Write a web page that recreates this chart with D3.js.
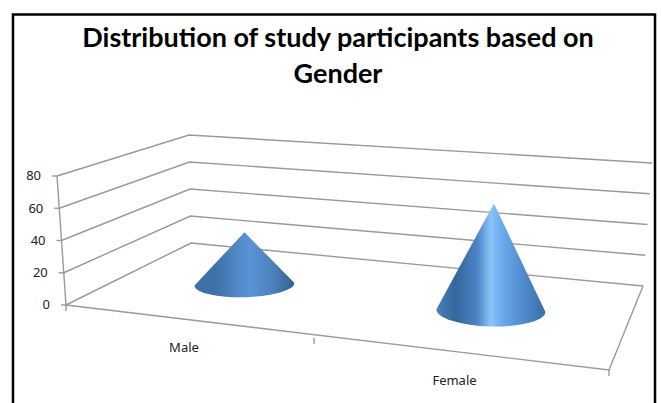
<!DOCTYPE html>
<html lang="en">
    <head>
        <meta charset="utf-8">
        <title>Distribution of study participants based on Gender</title>
        <script type="text/javascript" src="https://d3js.org/d3.v7.min.js"></script>
        <style type="text/css">
          html, body { margin: 0; padding: 0; background: #fff; }
          svg { display: block; }
          .grid { stroke: #999; stroke-width: 1.4px; fill: none; }
          .tick-label { font-family: "Noto Sans", sans-serif; font-size: 13px; fill: #222; }
          .title { font-family: Lato, sans-serif; font-weight: 700; font-size: 27px; fill: #000; text-anchor: middle; }
        </style>
    </head>
    <body>
        <svg width="661" height="403"></svg>
        <script type="text/javascript">
            const w = 661;
            const h = 403;

            //chart values
            const categories = ["Male", "Female"];
            const values = [32, 66];
            const yTicks = [0, 20, 40, 60, 80];
            const titleLines = ["Distribution of study participants based on", "Gender"];

            const svg = d3.select("svg");

            //outer frame
            svg.append("rect")
               .attr("x", 13).attr("y", 14.5)
               .attr("width", 642).attr("height", h)
               .attr("fill", "#fff").attr("stroke", "#000").attr("stroke-width", 2.5);

            svg.selectAll("text.title")
               .data(titleLines)
               .enter()
               .append("text")
               .attr("class", "title")
               .attr("x", 338)
               .attr("y", (d, i) => 47 + i * 36)
               .text(d => d);

            //the fake 3d box: one y scale per vertical edge of the box
            const yDomain = [0, 80];
            const frontX = d3.scaleLinear().domain(yDomain).range([66, 57]);
            const frontY = d3.scaleLinear().domain(yDomain).range([305, 176]);
            const backX = d3.scaleLinear().domain(yDomain).range([191, 189]);
            const backY = d3.scaleLinear().domain(yDomain).range([243, 135]);
            const rightX = d3.scaleLinear().domain(yDomain).range([643, 652]);
            const rightY = d3.scaleLinear().domain(yDomain).range([286, 163]);

            //category axis along the front and back of the floor
            const catFrontX = d3.scaleLinear().domain([0, 1, 2]).range([66, 314, 609]);
            const catFrontY = d3.scaleLinear().domain([0, 1, 2]).range([305, 338, 370]);
            const catBackX = d3.scaleLinear().domain([0, 1, 2]).range([191, 387, 643]);
            const catBackY = d3.scaleLinear().domain([0, 2]).range([243, 286]);

            //c = position along categories, depth = 0 front .. 1 back
            const floor = (c, depth) => [
                catFrontX(c) + (catBackX(c) - catFrontX(c)) * depth,
                catFrontY(c) + (catBackY(c) - catFrontY(c)) * depth
            ];

            //wall gridlines
            const line = d3.line();
            svg.selectAll("path.grid")
               .data(yTicks)
               .enter()
               .append("path")
               .attr("class", "grid")
               .attr("d", t => line([
                   [frontX(t), frontY(t)],
                   [backX(t), backY(t)],
                   [rightX(t), rightY(t)]
               ]));

            //floor front edge, right edge, and y axis edge
            svg.append("path").attr("class", "grid")
               .attr("d", line([[catFrontX(0), catFrontY(0)], [catFrontX(2), catFrontY(2)], [catBackX(2), catBackY(2)]]));
            svg.append("path").attr("class", "grid")
               .attr("d", line([[frontX(0), frontY(0)], [frontX(80), frontY(80)]]));

            //y ticks + labels
            svg.selectAll("line.ytick")
               .data(yTicks)
               .enter()
               .append("line")
               .attr("class", "grid")
               .attr("x1", t => frontX(t) - 5)
               .attr("x2", t => frontX(t))
               .attr("y1", t => frontY(t))
               .attr("y2", t => frontY(t));
            svg.selectAll("text.ylab")
               .data(yTicks)
               .enter()
               .append("text")
               .attr("class", "tick-label")
               .attr("text-anchor", "end")
               .attr("x", t => frontX(t) - 16)
               .attr("y", t => frontY(t) + 1)
               .attr("dominant-baseline", "middle")
               .text(t => t);

            //category ticks + labels
            svg.selectAll("line.xtick")
               .data([0, 1, 2])
               .enter()
               .append("line")
               .attr("class", "grid")
               .attr("x1", c => catFrontX(c))
               .attr("x2", c => catFrontX(c))
               .attr("y1", c => catFrontY(c))
               .attr("y2", c => catFrontY(c) + 6);
            svg.selectAll("text.xlab")
               .data(categories)
               .enter()
               .append("text")
               .attr("class", "tick-label")
               .attr("text-anchor", "middle")
               .attr("x", (d, i) => catFrontX(i + 0.5) - 6 - i)
               .attr("y", (d, i) => catFrontY(i + 0.5) + 30 + i)
               .text(d => d);

            //cone shading, the second one is lighter in the middle
            const defs = svg.append("defs");
            const coneStops = [
                [[0, "#3f70a8"], [0.2, "#3f70a8"], [0.55, "#5a94d6"], [0.8, "#4a7fba"], [1, "#33608f"]],
                [[0, "#4a80ba"], [0.18, "#35659c"], [0.38, "#4f86c6"], [0.5, "#8cc4fb"], [0.58, "#70aeee"], [0.8, "#4f8acc"], [1, "#3a6fa8"]]
            ];
            coneStops.forEach((stops, i) => {
                const g = defs.append("linearGradient").attr("id", "cone" + i);
                stops.forEach(s => g.append("stop").attr("offset", s[0]).attr("stop-color", s[1]));
            });

            const coneHeight = d3.scaleLinear().domain(yDomain).range([0, 130]);
            const coneWidth = d3.scaleOrdinal().domain(categories).range([50, 54.5]);
            const coneFlat = d3.scaleOrdinal().domain(categories).range([0.26, 0.29]);
            svg.selectAll("path.cone")
               .data(categories)
               .enter()
               .append("path")
               .attr("class", "cone")
               .attr("fill", (d, i) => `url(#cone${i})`)
               .attr("d", (d, i) => {
                   const [cx, cy] = floor(i + 0.5, 0.55);
                   const rx = coneWidth(d);
                   const ry = rx * coneFlat(d);
                   const tilt = 1.5 * (i === 0 ? -1 : 1); //base is skewed a little with the view
                   const dy = rx * Math.sin(tilt * Math.PI / 180);
                   const path = d3.path();
                   path.moveTo(cx - rx, cy - dy);
                   path.lineTo(cx + i * 3, cy - coneHeight(values[i]));
                   path.lineTo(cx + rx, cy + dy);
                   return path.toString() + `A${rx},${ry} ${tilt} 0 1 ${cx - rx},${cy - dy}Z`;
               });
        </script>
    </body>
</html>
